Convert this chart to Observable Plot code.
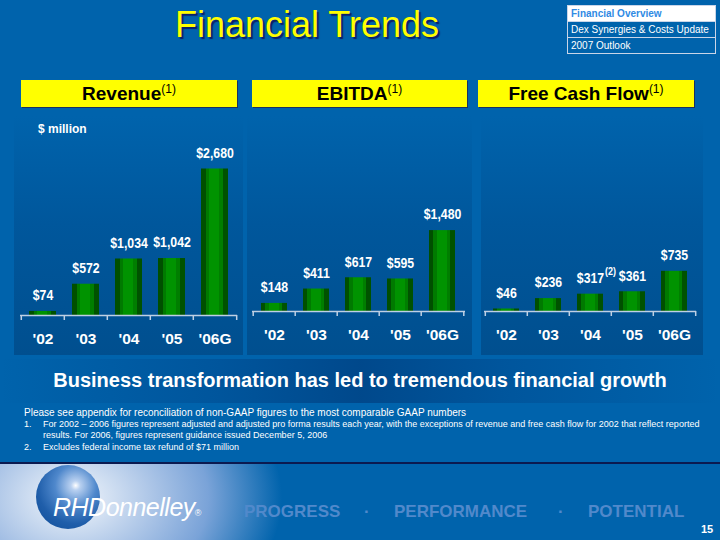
<!DOCTYPE html>
<html>
<head>
<meta charset="utf-8">
<script src="https://cdn.jsdelivr.net/npm/d3@7"></script>
<script src="https://cdn.jsdelivr.net/npm/@observablehq/plot@0.6"></script>
<style>
  html, body { margin: 0; padding: 0; }
  body { width: 720px; height: 540px; overflow: hidden; font-family: Arial, "Liberation Sans", sans-serif; }
  #slide { position: relative; width: 720px; height: 540px; background: #0063ac; overflow: hidden; }
  .abs { position: absolute; }
  #title { left: 0; width: 614px; top: 4px; text-align: center; font-size: 36px; color: #ffff00; text-shadow: 2px 2px 1px #0b1f6a; white-space: nowrap; }
  #nav { left: 567px; top: 5px; width: 147px; border: 1px solid #c9d5e8; font-size: 10px; }
  #nav div { height: 15px; line-height: 15px; padding-left: 3px; white-space: nowrap; color: #fff; }
  #nav div + div { border-top: 1px solid #c9d5e8; }
  #nav .on { background: #fff; color: #2f8ae4; font-weight: bold; }
  .hdr { top: 80px; height: 27px; background: #ffff00; color: #000; font-weight: bold; font-size: 19px; line-height: 28px; text-align: center; box-shadow: 1px 1px 0 #1b3060; white-space: nowrap; }
  .hdr sup { font-weight: normal; font-size: 12px; vertical-align: 7px; line-height: 0; }
  .panel { top: 116px; height: 239px; background: linear-gradient(to bottom, #0063ac 0%, #00579c 45%, #004f8f 100%); }
  .chart { position: absolute; }
  #unit { left: 38px; top: 122px; color: #fff; font-weight: bold; font-size: 12px; }
  #band { left: 0; top: 359px; width: 720px; height: 44px; background: linear-gradient(to right, rgba(0,40,100,0) 0%, rgba(0,45,110,0.25) 30%, rgba(0,40,100,0.45) 50%, rgba(0,45,110,0.25) 70%, rgba(0,40,100,0) 100%); }
  #tag { left: 0; width: 720px; top: 369px; text-align: center; color: #fff; font-weight: bold; font-size: 20px; white-space: nowrap; }
  .fn { color: #fff; font-size: 10px; white-space: nowrap; line-height: 12px; }
  .fn.sm { font-size: 9px; }
  #rule { left: 0; top: 462px; width: 720px; height: 2px; background: #0b1a50; }
  #logoBg { left: 0; top: 464px; width: 320px; height: 76px; background: radial-gradient(ellipse 210px 150px at 72px 34px, #f2f6fc 0%, #d2e0f2 18%, #a9c3e6 40%, #7aa3d8 65%, rgba(0,99,172,0) 100%); }
  #sphere { left: 36px; top: 465px; width: 64px; height: 64px; border-radius: 50%; background: radial-gradient(circle at 62% 32%, #ffffff 0%, #b8d0f0 8%, #4f88cc 35%, #1f5eaa 65%, #0d4a95 100%); }
  #logoText { left: 53px; top: 493px; color: #fff; font-style: italic; font-size: 25px; letter-spacing: -0.5px; white-space: nowrap; }
  #logoText span { font-size: 9px; font-style: normal; letter-spacing: 0; }
  .foot { top: 502px; color: #5189cb; font-weight: bold; font-size: 17px; white-space: nowrap; }
  #page { left: 701px; top: 523px; color: #fff; font-weight: bold; font-size: 11px; }
</style>
</head>
<body>
<div id="slide">
  <div id="title" class="abs">Financial Trends</div>
  <div id="nav" class="abs">
    <div class="on">Financial Overview</div>
    <div>Dex Synergies &amp; Costs Update</div>
    <div>2007 Outlook</div>
  </div>
  <div id="unit" class="abs">$ million</div>
  <div id="band" class="abs"></div>
  <div id="tag" class="abs">Business transformation has led to tremendous financial growth</div>
  <div class="abs fn" style="left:24px;top:407px;">Please see appendix for reconciliation of non-GAAP figures to the most comparable GAAP numbers</div>
  <div class="abs fn sm" style="left:24px;top:418px;">1.</div>
  <div class="abs fn sm" style="left:43px;top:418px;">For 2002 – 2006 figures represent adjusted and adjusted pro forma results each year, with the exceptions of revenue and free cash flow for 2002 that reflect reported</div>
  <div class="abs fn sm" style="left:43px;top:429px;">results. For 2006, figures represent guidance issued December 5, 2006</div>
  <div class="abs fn sm" style="left:24px;top:441px;">2.</div>
  <div class="abs fn sm" style="left:43px;top:441px;">Excludes federal income tax refund of $71 million</div>
  <div id="rule" class="abs"></div>
  <div id="logoBg" class="abs"></div>
  <div id="sphere" class="abs"></div>
  <div id="logoText" class="abs">RHDonnelley<span>®</span></div>
  <div class="abs foot" style="left:244px;">PROGRESS</div>
  <div class="abs foot" style="left:364px;">·</div>
  <div class="abs foot" style="left:394px;">PERFORMANCE</div>
  <div class="abs foot" style="left:558px;">·</div>
  <div class="abs foot" style="left:588px;">POTENTIAL</div>
  <div id="page" class="abs">15</div>
</div>
<script>
// ---- data ----
const years = ["'02", "'03", "'04", "'05", "'06G"];
const revenue = [74, 572, 1034, 1042, 2680];
const ebitda = [148, 411, 617, 595, 1480];
const freeCashFlow = [46, 236, 317, 361, 735];
const panelTitles = ["Revenue", "EBITDA", "Free Cash Flow"];
const footnoteMark = "(1)";
const fcfNote = {year: "'04", value: 317, text: "(2)"};

// ---- layout ----
const slide = document.getElementById("slide");
const layouts = [
  {panelLeft: 14, panelWidth: 229, hdrLeft: 21, hdrWidth: 216, svgLeft: 14, svgTop: 115, width: 229, ml: 6, mr: 6},
  {panelLeft: 247, panelWidth: 225, hdrLeft: 252, hdrWidth: 215, svgLeft: 247, svgTop: 111, width: 225, ml: 5, mr: 7},
  {panelLeft: 481, panelWidth: 222, hdrLeft: 478, hdrWidth: 216, svgLeft: 481, svgTop: 111, width: 222, ml: 3, mr: 7}
];
const series = [revenue, ebitda, freeCashFlow];
const fmt = d3.format(",");
const labelFont = "Arial, 'Liberation Sans', sans-serif";

series.forEach((vals, i) => {
  const L = layouts[i];
  const panel = document.createElement("div");
  panel.className = "abs panel";
  panel.style.left = L.panelLeft + "px";
  panel.style.width = L.panelWidth + "px";
  slide.insertBefore(panel, document.getElementById("unit"));

  const hdr = document.createElement("div");
  hdr.className = "abs hdr";
  hdr.style.left = L.hdrLeft + "px";
  hdr.style.width = L.hdrWidth + "px";
  hdr.innerHTML = panelTitles[i] + "<sup>" + footnoteMark + "</sup>";
  slide.appendChild(hdr);

  const data = years.map((y, j) => ({year: y, value: vals[j]}));
  const H = 240, mt = 36, mb = 40;
  const ymax = 3000;
  const step = (L.width - L.ml - L.mr) / years.length;
  const unitsPerPx = ymax / (H - mt - mb);
  const tickLen = 5 * unitsPerPx;
  const gid = "barGrad" + i;

  const marks = [
    () => {
      const ns = "http://www.w3.org/2000/svg";
      const defs = document.createElementNS(ns, "defs");
      const lg = document.createElementNS(ns, "linearGradient");
      lg.setAttribute("id", gid);
      lg.setAttribute("x1", "0"); lg.setAttribute("x2", "1");
      lg.setAttribute("y1", "0"); lg.setAttribute("y2", "0");
      const stops = [[0, "#004f00"], [0.17, "#004f00"], [0.17, "#007a00"], [0.3, "#007a00"], [0.3, "#009300"],
                     [0.68, "#009300"], [0.68, "#007e00"], [0.82, "#007e00"], [0.82, "#005200"], [1, "#005200"]];
      for (const [o, c] of stops) {
        const s = document.createElementNS(ns, "stop");
        s.setAttribute("offset", o); s.setAttribute("stop-color", c);
        lg.appendChild(s);
      }
      defs.appendChild(lg);
      return defs;
    },
    Plot.barY(data, {x: "year", y: "value", fill: `url(#${gid})`}),
    Plot.ruleY([0], {stroke: "#bfd0e4", strokeWidth: 1.5}),
    Plot.ruleX(data, {x: "year", dx: -step / 2, y1: 0, y2: -tickLen, stroke: "#bfd0e4", strokeWidth: 1.5}),
    Plot.ruleX(data.slice(-1), {x: "year", dx: step / 2, y1: 0, y2: -tickLen, stroke: "#bfd0e4", strokeWidth: 1.5}),
    Plot.text(data, {x: "year", y: "value", text: d => "$" + fmt(d.value), dy: -16, fill: "white",
                     fontSize: 15, fontWeight: "bold", fontFamily: labelFont}),
    Plot.axisX({tickSize: 0, tickPadding: 17, fontSize: 15.5, fontWeight: "bold", fill: "white", label: null})
  ];
  if (i === 2) {
    marks.push(Plot.text([fcfNote], {x: "year", y: "value", text: "text", dx: 20, dy: -23, fill: "white",
                                     fontSize: 11, fontWeight: "bold", fontFamily: labelFont}));
  }

  const svg = Plot.plot({
    width: L.width,
    height: H,
    marginTop: mt,
    marginBottom: mb,
    marginLeft: L.ml,
    marginRight: L.mr,
    style: {background: "transparent", color: "white", fontFamily: "Arial, 'Liberation Sans', sans-serif", overflow: "visible"},
    x: {domain: years, paddingInner: 0.38, paddingOuter: 0.19, axis: null},
    y: {domain: [0, ymax], axis: null},
    marks
  });
  // condensed look for the value labels (Arial Narrow style)
  svg.querySelectorAll("text").forEach(t => {
    const s = t.textContent;
    if (!(s.startsWith("$") || s === fcfNote.text)) return;
    let tx = 0, ty = 0;
    const tr = t.getAttribute("transform");
    if (tr) {
      const m = tr.match(/translate\(\s*([-\d.e]+)[ ,]+([-\d.e]+)\s*\)/);
      if (m) { tx = +m[1]; ty = +m[2]; }
    } else {
      tx = +(t.getAttribute("x") || 0); ty = +(t.getAttribute("y") || 0);
      t.removeAttribute("x"); t.removeAttribute("y");
    }
    t.setAttribute("transform", `translate(${tx},${ty}) scale(0.82,1)`);
  });
  svg.classList.add("chart");
  svg.style.left = L.svgLeft + "px";
  svg.style.top = L.svgTop + "px";
  slide.insertBefore(svg, document.getElementById("band"));
});
</script>
</body>
</html>
